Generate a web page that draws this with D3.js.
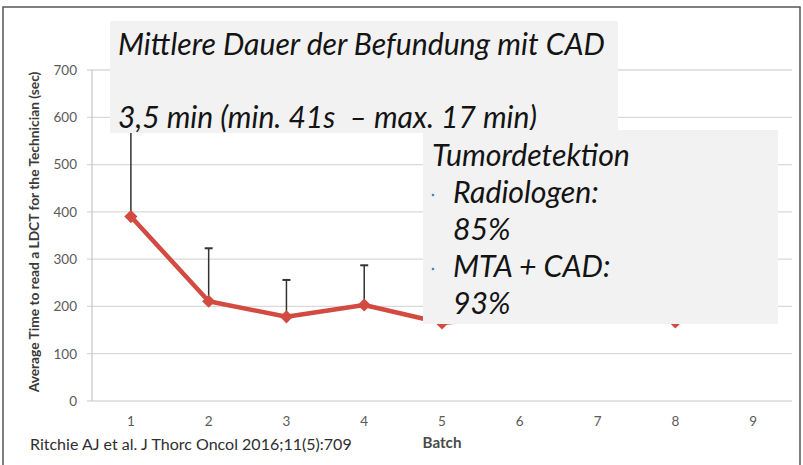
<!DOCTYPE html>
<html>
<head>
<meta charset="utf-8">
<script src="https://cdn.jsdelivr.net/npm/d3@7/dist/d3.min.js"></script>
<style>
  body { margin: 0; background: #fff; }
  text { font-family: Lato, "Open Sans", sans-serif; }
</style>
</head>
<body>
<div class="chart"></div>
<script>
// data (batches 6-8 sit behind the text box)
var batches = ["1", "2", "3", "4", "5", "6", "7", "8", "9"];
var meanTime = [390, 211, 178, 203, 165, 182, 180, 167, null];
var errUpper = [620, 323, 256, 287, 255, 240, 270, 235, null];
var yTicks = [0, 100, 200, 300, 400, 500, 600, 700];

var box1Lines = ["Mittlere Dauer der Befundung mit CAD", "3,5 min (min. 41s  \u2013 max. 17 min)"];
var box2Lines = ["Tumordetektion", "Radiologen:", "85%", "MTA + CAD:", "93%"];
var box2Bullets = [false, true, false, true, false];

var svgWidth = 803, svgHeight = 465;
var margin = {top: 70, bottom: 64, right: 11, left: 92};
var width = svgWidth - margin.left - margin.right;
var height = svgHeight - margin.top - margin.bottom;

var svg = d3.select(".chart")
    .append("svg")
    .attr("width", svgWidth)
    .attr("height", svgHeight);

// scale a text's font so it spans the width seen in the picture
function fit(sel, target) {
    var w = sel.node().getComputedTextLength();
    var fs = parseFloat(sel.style("font-size"));
    sel.style("font-size", (fs * target / w) + "px");
}

// outer frame
svg.append("rect")
    .attr("x", 3).attr("y", 7)
    .attr("width", 797).attr("height", 470)
    .attr("fill", "none")
    .attr("stroke", "#555")
    .attr("stroke-width", 1.5);

var chartGroup = svg.append("g")
    .attr("transform", `translate(${margin.left}, ${margin.top})`);

var x = d3.scaleBand().domain(batches).range([0, width]);
var y = d3.scaleLinear().domain([0, 700]).range([height, 0]);

// gridlines
chartGroup.append("g")
    .selectAll("line")
    .data(yTicks)
    .enter()
    .append("line")
    .attr("x1", -5).attr("x2", width)
    .attr("y1", d => y(d)).attr("y2", d => y(d))
    .attr("stroke", "#d9d9d9")
    .attr("stroke-width", 1.3);

chartGroup.append("line")
    .attr("x1", 0).attr("x2", 0)
    .attr("y1", 0).attr("y2", height)
    .attr("stroke", "#c8c8c8")
    .attr("stroke-width", 1.3);

// y axis labels
var yAxis = d3.axisLeft(y).tickValues(yTicks).tickSize(0).tickPadding(15);
var yg = chartGroup.append("g").call(yAxis);
yg.select(".domain").remove();
yg.selectAll("text")
    .attr("fill", "#5a5a5a")
    .style("font-size", "13.5px")
    .style("font-family", "Lato, sans-serif");

// x axis labels
var xAxis = d3.axisBottom(x).tickSize(0).tickPadding(15);
var xg = chartGroup.append("g")
    .attr("transform", `translate(0,${height})`)
    .call(xAxis);
xg.select(".domain").remove();
xg.selectAll("text")
    .attr("fill", "#5a5a5a")
    .style("font-size", "13.5px")
    .style("font-family", "Lato, sans-serif");

var cx = d => x(d.batch) + x.bandwidth() / 2;
var pts = batches.map((b, i) => ({batch: b, mean: meanTime[i], err: errUpper[i]}))
    .filter(d => d.mean != null);

// error bars (upper only)
var eb = chartGroup.append("g").selectAll("g")
    .data(pts)
    .enter()
    .append("g");
eb.append("line")
    .attr("x1", cx).attr("x2", cx)
    .attr("y1", d => y(d.mean)).attr("y2", d => y(d.err))
    .attr("stroke", "#333")
    .attr("stroke-width", 1.5);
eb.append("line")
    .attr("x1", d => cx(d) - 4).attr("x2", d => cx(d) + 4)
    .attr("y1", d => y(d.err)).attr("y2", d => y(d.err))
    .attr("stroke", "#333")
    .attr("stroke-width", 2);

// line + diamonds
var line = d3.line()
    .x(cx)
    .y(d => y(d.mean));

chartGroup.append("path")
    .datum(pts)
    .attr("d", line)
    .attr("fill", "none")
    .attr("stroke", "#d24a40")
    .attr("stroke-width", 4.5)
    .attr("stroke-linejoin", "round");

chartGroup.selectAll(".marker")
    .data(pts)
    .enter()
    .append("path")
    .attr("class", "marker")
    .attr("d", d3.symbol().type(d3.symbolDiamond2).size(110))
    .attr("transform", d => `translate(${cx(d)},${y(d.mean)})`)
    .attr("fill", "#d24a40");

// axis titles
var yTitle = svg.append("text")
    .attr("transform", "translate(39,232) rotate(-90)")
    .attr("text-anchor", "middle")
    .attr("fill", "#3a3a3a")
    .style("font-size", "12px")
    .style("font-weight", "bold")
    .text("Average Time to read a LDCT for the Technician (sec)");
fit(yTitle, 321);

var batchTitle = svg.append("text")
    .attr("x", 442).attr("y", 448)
    .attr("text-anchor", "middle")
    .attr("fill", "#4a4a4a")
    .style("font-size", "12px")
    .style("font-weight", "bold")
    .text("Batch");
fit(batchTitle, 39);

var cite = svg.append("text")
    .attr("x", 30).attr("y", 450)
    .attr("fill", "#2e2e2e")
    .style("font-size", "14px")
    .text("Ritchie AJ et al. J Thorc Oncol 2016;11(5):709");
fit(cite, 322);

// text box 1
svg.append("rect")
    .attr("x", 110).attr("y", 21)
    .attr("width", 508).attr("height", 112)
    .attr("fill", "#f2f2f2");

var box1Widths = [487, 419];
svg.append("g").selectAll("text")
    .data(box1Lines)
    .enter()
    .append("text")
    .attr("x", 118)
    .attr("y", (d, i) => 55 + i * 73)
    .attr("fill", "#141414")
    .style("font-size", "25px")
    .style("font-style", "italic")
    .style("white-space", "pre")
    .text(d => d)
    .each(function (d, i) { fit(d3.select(this), box1Widths[i]); });

// text box 2
svg.append("rect")
    .attr("x", 423).attr("y", 130)
    .attr("width", 355).attr("height", 194)
    .attr("fill", "#f2f2f2");

var t2 = svg.append("g").selectAll("text")
    .data(box2Lines)
    .enter()
    .append("text")
    .attr("x", (d, i) => i === 0 ? 432 : 453)
    .attr("y", (d, i) => 166 + i * 37)
    .attr("fill", "#141414")
    .style("font-size", "25px")
    .style("font-style", "italic")
    .text(d => d);
// one common size, taken from the heading's width
var head = t2.filter((d, i) => i === 0);
fit(head, 198);
t2.style("font-size", head.style("font-size"));

svg.append("g").selectAll("circle")
    .data(box2Lines.map((d, i) => i).filter(i => box2Bullets[i]))
    .enter()
    .append("circle")
    .attr("cx", 433)
    .attr("cy", i => 158 + i * 37)
    .attr("r", 1.3)
    .attr("fill", "#4f81bd");
</script>
</body>
</html>
